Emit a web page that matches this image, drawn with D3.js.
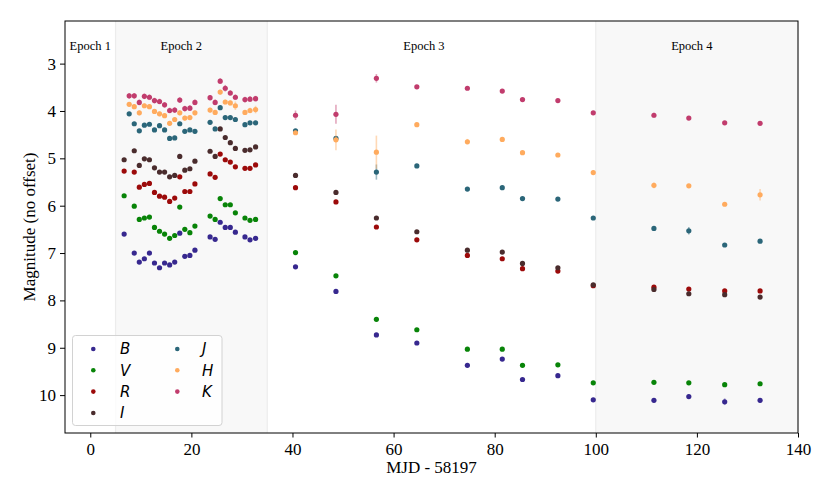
<!DOCTYPE html>
<html>
<head>
<meta charset="utf-8">
<script src="https://cdn.jsdelivr.net/npm/d3@7"></script>
<style>
  html, body { margin: 0; padding: 0; background: #ffffff; }
  svg { display: block; }
</style>
</head>
<body>
<svg id="chart" width="830" height="498"></svg>
<script>
// ---------------- DATA ----------------
const bandNames = ["B", "V", "R", "I", "J", "H", "K"];
const bandColors = ["#37288f", "#088408", "#9c0a0a", "#4a2c2d", "#2b6679", "#ffab5e", "#c13c6d"];

// MJD - 58197 of the observations
const mjdOptEpoch2 = [6.7, 8.7, 9.7, 10.7, 11.7, 12.7, 13.7, 14.7, 15.7, 16.7, 17.7, 18.7, 19.7, 20.7,
                      23.7, 24.7, 25.7, 26.7, 27.7, 28.7, 30.6, 31.6, 32.7];
const mjdIREpoch2  = [7.7, 8.7, 9.7, 10.7, 11.7, 12.7, 13.7, 14.7, 15.7, 16.7, 17.7, 18.7, 19.7, 20.7,
                      23.7, 24.7, 25.7, 26.7, 27.7, 28.7, 30.6, 31.6, 32.7];
const mjdLate = [40.6, 48.6, 56.6, 64.6, 74.6, 81.5, 85.5, 92.5, 99.5, 111.5, 118.4, 125.5, 132.5];

// magnitudes: epoch 2 values, then epoch 3/4 values
const magB = [6.60, 7.00, 7.19, 7.12, 7.00, 7.21, 7.31, 7.21, 7.25, 7.19, 6.58, 7.07, 7.05, 6.94,
              6.66, 6.71, 6.35, 6.46, 6.46, 6.56, 6.66, 6.72, 6.69,
              7.29, 7.81, 8.73, 8.90, 9.37, 9.24, 9.67, 9.59, 10.10, 10.11, 10.03, 10.14, 10.11];
const magV = [5.79, 6.01, 6.29, 6.26, 6.24, 6.46, 6.54, 6.60, 6.69, 6.63, 6.03, 6.50, 6.57, 6.43,
              6.22, 6.29, 5.85, 5.98, 5.98, 6.15, 6.26, 6.31, 6.29,
              6.99, 7.48, 8.40, 8.62, 9.03, 9.03, 9.37, 9.36, 9.74, 9.73, 9.74, 9.78, 9.76];
const magR = [5.27, 5.29, 5.61, 5.55, 5.53, 5.72, 5.80, 5.82, 5.91, 5.84, 5.39, 5.70, 5.70, 5.54,
              5.33, 5.40, 4.91, 5.03, 5.08, 5.18, 5.21, 5.21, 5.14,
              5.62, 5.92, 6.45, 6.72, 7.05, 7.12, 7.33, 7.38, 7.69, 7.72, 7.76, 7.80, 7.80];
const magI = [5.03, 4.84, 5.15, 5.01, 5.03, 5.20, 5.29, 5.29, 5.39, 5.36, 4.96, 5.25, 5.22, 5.06,
              4.85, 4.96, 4.38, 4.56, 4.67, 4.79, 4.83, 4.82, 4.76,
              5.36, 5.72, 6.26, 6.55, 6.94, 6.98, 7.22, 7.31, 7.67, 7.77, 7.86, 7.88, 7.93];
const magJ = [4.06, 4.27, 4.42, 4.30, 4.28, 4.40, 4.31, 4.40, 4.58, 4.57, 4.27, 4.43, 4.40, 4.43,
              4.24, 4.38, 3.93, 4.14, 4.14, 4.18, 4.29, 4.25, 4.25,
              4.42, 4.58, 5.29, 5.16, 5.65, 5.62, 5.85, 5.86, 6.26, 6.48, 6.53, 6.83, 6.75];
const magH = [3.86, 3.91, 4.04, 3.89, 3.91, 4.01, 4.06, 4.10, 4.26, 4.18, 4.04, 4.15, 4.14, 4.04,
              3.98, 4.03, 3.60, 3.81, 3.83, 3.89, 4.03, 3.99, 3.97,
              4.46, 4.61, 4.87, 4.29, 4.65, 4.60, 4.88, 4.93, 5.30, 5.57, 5.58, 5.97, 5.77];
const magK = [3.68, 3.68, 3.82, 3.69, 3.71, 3.78, 3.80, 3.87, 3.99, 3.98, 3.77, 3.95, 3.94, 3.82,
              3.72, 3.82, 3.37, 3.52, 3.62, 3.71, 3.76, 3.75, 3.74,
              4.09, 4.07, 3.31, 3.49, 3.52, 3.58, 3.76, 3.78, 4.04, 4.09, 4.15, 4.25, 4.26];

// magnitude uncertainties
const errB = [0.03, 0.03, 0.03, 0.03, 0.03, 0.03, 0.03, 0.03, 0.03, 0.03, 0.03, 0.03, 0.03, 0.03,
              0.03, 0.03, 0.03, 0.03, 0.03, 0.03, 0.03, 0.03, 0.03,
              0.03, 0.03, 0.03, 0.03, 0.03, 0.03, 0.03, 0.03, 0.04, 0.04, 0.04, 0.07, 0.05];
const errV = [0.02, 0.02, 0.02, 0.02, 0.02, 0.02, 0.02, 0.02, 0.02, 0.02, 0.02, 0.02, 0.02, 0.02,
              0.02, 0.02, 0.02, 0.02, 0.02, 0.02, 0.02, 0.02, 0.02,
              0.02, 0.02, 0.02, 0.02, 0.02, 0.02, 0.02, 0.02, 0.02, 0.02, 0.02, 0.03, 0.02];
const errR = [0.02, 0.02, 0.02, 0.02, 0.02, 0.02, 0.02, 0.02, 0.02, 0.02, 0.02, 0.02, 0.02, 0.02,
              0.02, 0.02, 0.02, 0.02, 0.02, 0.02, 0.02, 0.02, 0.02,
              0.02, 0.02, 0.02, 0.02, 0.02, 0.02, 0.02, 0.02, 0.02, 0.02, 0.02, 0.02, 0.02];
const errI = [0.03, 0.03, 0.03, 0.03, 0.03, 0.03, 0.03, 0.03, 0.03, 0.03, 0.03, 0.03, 0.03, 0.03,
              0.03, 0.03, 0.03, 0.03, 0.03, 0.03, 0.03, 0.03, 0.03,
              0.03, 0.03, 0.03, 0.03, 0.03, 0.03, 0.03, 0.03, 0.04, 0.03, 0.03, 0.03, 0.03];
const errJ = [0.04, 0.04, 0.04, 0.04, 0.04, 0.04, 0.04, 0.04, 0.04, 0.04, 0.04, 0.04, 0.04, 0.04,
              0.04, 0.04, 0.04, 0.04, 0.04, 0.04, 0.04, 0.04, 0.04,
              0.04, 0.05, 0.16, 0.03, 0.03, 0.03, 0.03, 0.03, 0.04, 0.03, 0.08, 0.03, 0.03];
const errH = [0.05, 0.05, 0.05, 0.05, 0.05, 0.05, 0.05, 0.05, 0.05, 0.05, 0.05, 0.05, 0.05, 0.05,
              0.05, 0.05, 0.05, 0.05, 0.05, 0.09, 0.05, 0.06, 0.08,
              0.04, 0.22, 0.35, 0.03, 0.06, 0.03, 0.03, 0.04, 0.05, 0.06, 0.04, 0.03, 0.12];
const errK = [0.06, 0.06, 0.06, 0.06, 0.06, 0.06, 0.06, 0.06, 0.06, 0.06, 0.06, 0.06, 0.06, 0.06,
              0.06, 0.06, 0.06, 0.07, 0.06, 0.06, 0.06, 0.06, 0.06,
              0.10, 0.20, 0.09, 0.03, 0.03, 0.03, 0.03, 0.03, 0.03, 0.05, 0.03, 0.03, 0.03];

const bandMags = [magB, magV, magR, magI, magJ, magH, magK];
const bandErrs = [errB, errV, errR, errI, errJ, errH, errK];
const bandIsIR = [false, false, false, false, true, true, true];

const epochNames = ["Epoch 1", "Epoch 2", "Epoch 3", "Epoch 4"];
const epochLabelMjd = [0, 18, 66, 119];
const shadedStart = [5, 100];
const shadedEnd = [35, 140];

const xTicks = [0, 20, 40, 60, 80, 100, 120, 140];
const yTicks = [3, 4, 5, 6, 7, 8, 9, 10];
const xDomain = [-5, 140];
const yDomain = [2.1, 10.8];

// ---------------- DRAW ----------------
const svg = d3.select("#chart");
const W = 830, H = 498;
const plot = { left: 65, right: 798, top: 21, bottom: 433 };

const x = d3.scaleLinear().domain(xDomain).range([plot.left, plot.right]);
const y = d3.scaleLinear().domain(yDomain).range([plot.top, plot.bottom]);

const serif = "'Liberation Serif', 'Times New Roman', 'DejaVu Serif', serif";

svg.append("rect").attr("width", W).attr("height", H).attr("fill", "#ffffff");

// epoch shading
const shade = svg.append("g");
shadedStart.forEach((s, i) => {
  shade.append("rect")
    .attr("x", x(s)).attr("y", plot.top)
    .attr("width", x(shadedEnd[i]) - x(s))
    .attr("height", plot.bottom - plot.top)
    .attr("fill", "#f8f8f8");
  [s, shadedEnd[i]].forEach(v => {
    shade.append("line")
      .attr("x1", x(v)).attr("x2", x(v))
      .attr("y1", plot.top).attr("y2", plot.bottom)
      .attr("stroke", "#ececec").attr("stroke-width", 1.2);
  });
});

// epoch labels
svg.append("g").selectAll("text").data(epochNames).join("text")
  .attr("x", (d, i) => x(epochLabelMjd[i]))
  .attr("y", 50)
  .attr("text-anchor", "middle")
  .attr("font-family", serif)
  .attr("font-size", 12.5)
  .attr("fill", "#000")
  .text(d => d);

// data points
const pts = svg.append("g");
bandNames.forEach((b, bi) => {
  const mjds = (bandIsIR[bi] ? mjdIREpoch2 : mjdOptEpoch2).concat(mjdLate);
  const data = mjds.map((m, i) => ({ m, mag: bandMags[bi][i], err: bandErrs[bi][i] }));
  const g = pts.append("g");
  g.selectAll("line").data(data).join("line")
    .attr("x1", d => x(d.m)).attr("x2", d => x(d.m))
    .attr("y1", d => y(d.mag - d.err)).attr("y2", d => y(d.mag + d.err))
    .attr("stroke", bandColors[bi]).attr("stroke-opacity", 0.45)
    .attr("stroke-width", 1.6);
  g.selectAll("circle").data(data).join("circle")
    .attr("cx", d => x(d.m)).attr("cy", d => y(d.mag))
    .attr("r", 2.6)
    .attr("fill", bandColors[bi]);
});

// frame
svg.append("rect")
  .attr("x", plot.left).attr("y", plot.top)
  .attr("width", plot.right - plot.left).attr("height", plot.bottom - plot.top)
  .attr("fill", "none").attr("stroke", "#000").attr("stroke-width", 1);

// axes
const xAxis = d3.axisBottom(x).tickValues(xTicks).tickSize(4.5).tickPadding(5).tickFormat(d3.format("d"));
const yAxis = d3.axisLeft(y).tickValues(yTicks).tickSize(5).tickPadding(4).tickFormat(d3.format("d"));

const gx = svg.append("g").attr("transform", `translate(0,${plot.bottom})`).call(xAxis);
const gy = svg.append("g").attr("transform", `translate(${plot.left},0)`).call(yAxis);
[gx, gy].forEach(g => {
  g.select(".domain").remove();
  g.selectAll(".tick line").attr("stroke", "#000").attr("stroke-width", 1);
  g.selectAll(".tick text").attr("font-family", serif).attr("font-size", 17).attr("fill", "#000");
});

// axis labels
svg.append("text")
  .attr("x", (plot.left + plot.right) / 2).attr("y", 473)
  .attr("text-anchor", "middle")
  .attr("font-family", serif).attr("font-size", 17)
  .text("MJD - 58197");

svg.append("text")
  .attr("transform", `translate(35,${(plot.top + plot.bottom) / 2}) rotate(-90)`)
  .attr("text-anchor", "middle")
  .attr("font-family", serif).attr("font-size", 17)
  .text("Magnitude (no offset)");

// legend
const leg = svg.append("g");
leg.append("rect")
  .attr("x", 72.5).attr("y", 335.5).attr("width", 149.5).attr("height", 90)
  .attr("rx", 3).attr("ry", 3)
  .attr("fill", "#ffffff").attr("fill-opacity", 0.8)
  .attr("stroke", "#d2d2d2").attr("stroke-width", 1);

const legCols = [{ mx: 93.3, tx: 120 }, { mx: 177.3, tx: 202 }];
const legRowY = [349, 370.3, 391.6, 413];
bandNames.forEach((b, i) => {
  const col = i < 4 ? 0 : 1;
  const row = i < 4 ? i : i - 4;
  leg.append("circle")
    .attr("cx", legCols[col].mx).attr("cy", legRowY[row])
    .attr("r", 2.3).attr("fill", bandColors[i]);
  leg.append("text")
    .attr("x", legCols[col].tx).attr("y", legRowY[row] + 5.3)
    .attr("font-family", "'DejaVu Sans', sans-serif")
    .attr("font-style", "italic")
    .attr("font-size", 15)
    .attr("fill", "#000")
    .text(b);
});
</script>
</body>
</html>
